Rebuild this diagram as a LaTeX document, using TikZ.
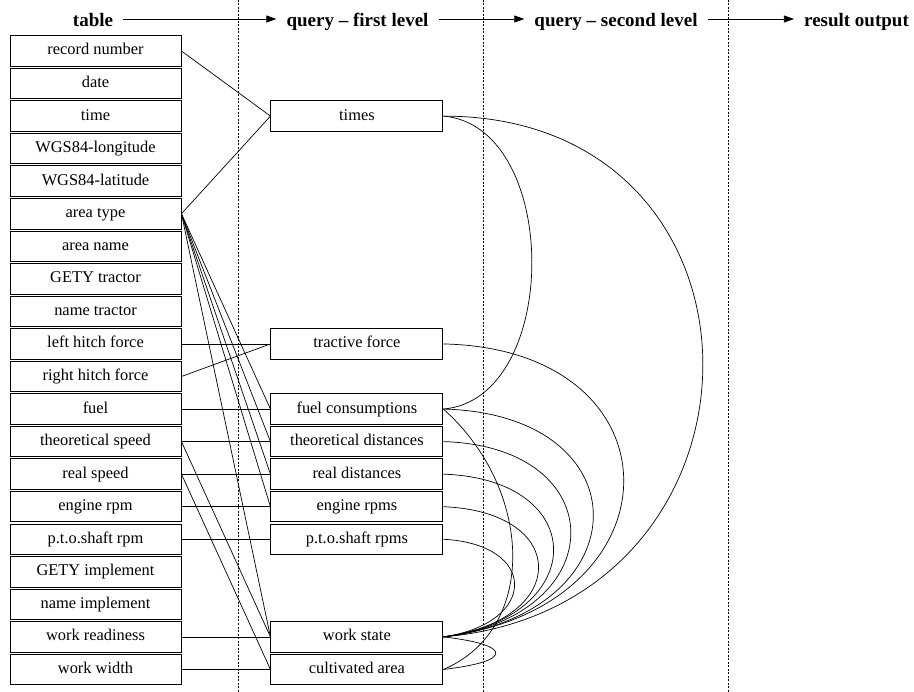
\documentclass[tikz,border=0pt]{standalone}
\usepackage{fontspec}
\setmainfont{Liberation Serif}
\usetikzlibrary{positioning,arrows.meta}

\begin{document}
\begin{tikzpicture}[x=1pt,y=1pt,
  fld/.style={draw,line width=0.9pt,minimum width=171pt,minimum height=30.5pt,inner sep=0pt,text height=11.5pt,text depth=3.5pt,font=\fontsize{16.4}{18}\selectfont},
  qry/.style={fld,minimum width=172pt},
  head/.style={font=\fontsize{19}{21}\selectfont\bfseries,text height=15pt,text depth=0pt,inner xsep=10pt,inner ysep=2pt},
  flow/.style={line width=0.7pt,-{Triangle[length=10pt,width=7pt]}},
  link/.style={line width=0.7pt},
  sep/.style={line width=0.6pt,dash pattern=on 2pt off 1.5pt}]
\useasboundingbox (0,0) rectangle (914,-692);
% headings
\node[head] (htable) at (93,-19) {table};
\node[head] (hfirst) at (357.5,-19) {query -- first level};
\node[head] (hsecond) at (616,-19) {query -- second level};
\node[head] (hresult) at (856.5,-19) {result output};
\draw[flow] (htable) -- (hfirst);
\draw[flow] (hfirst) -- (hsecond);
\draw[flow] (hsecond) -- (hresult);
% separators
\foreach \x in {238,483,728} {
   \draw[sep] (\x,0) -- (\x,-692);
}
% table fields
\foreach \i/\l in %
{1/record number,2/date,3/time,4/WGS84-longitude,5/WGS84-latitude,6/area type,7/area name,8/GETY tractor,9/name tractor,10/left hitch force,11/right hitch force,12/fuel,13/theoretical speed,14/real speed,15/engine rpm,16/p.t.o.shaft rpm,17/GETY implement,18/name implement,19/work readiness,20/work width} {
   \node[fld] (f\i) at (95.5,{-18.45-32.55*\i}) {\l};
}
% first level queries
\node[qry,right=89pt of f3] (times) {times};
\node[qry,right=89pt of f10] (tract) {tractive force};
\node[qry,right=89pt of f12] (fuelc) {fuel consumptions};
\node[qry,right=89pt of f13] (theod) {theoretical distances};
\node[qry,right=89pt of f14] (reald) {real distances};
\node[qry,right=89pt of f15] (engr) {engine rpms};
\node[qry,right=89pt of f16] (ptor) {p.t.o.shaft rpms};
\node[qry,right=89pt of f19] (wstate) {work state};
\node[qry,right=89pt of f20] (carea) {cultivated area};
% table -> first level
\foreach \a/\b in {f1/times,f6/times,f10/tract,f11/tract,f12/fuelc,f6/fuelc,f13/theod,f6/theod,f14/reald,f6/reald,f15/engr,f6/engr,f16/ptor,f6/wstate,f13/wstate,f19/wstate,f14/carea,f20/carea} {
   \draw[link] (\a.east) -- (\b.west);
}
% first level -> second level
\draw[link] (times.east) .. controls +(118,-10) and +(118,10) .. (fuelc.east);
\draw[link] (times.east) .. controls +(347,0) and +(345,30) .. (wstate.east);
\draw[link] (tract.east) .. controls +(241,-5) and +(240,30) .. (wstate.east);
\draw[link] (fuelc.east) .. controls +(200,-5) and +(200,25) .. (wstate.east);
\draw[link] (fuelc.east) .. controls +(90,-80) and +(95,40) .. (carea.east);
\draw[link] (theod.east) .. controls +(170,-5) and +(170,22) .. (wstate.east);
\draw[link] (reald.east) .. controls +(147,-5) and +(147,20) .. (wstate.east);
\draw[link] (engr.east) .. controls +(127,-5) and +(127,17) .. (wstate.east);
\draw[link] (ptor.east) .. controls +(95,-5) and +(95,14) .. (wstate.east);
\draw[link] (wstate.east) .. controls +(70,-8) and +(70,8) .. (carea.east);
\end{tikzpicture}
\end{document}
